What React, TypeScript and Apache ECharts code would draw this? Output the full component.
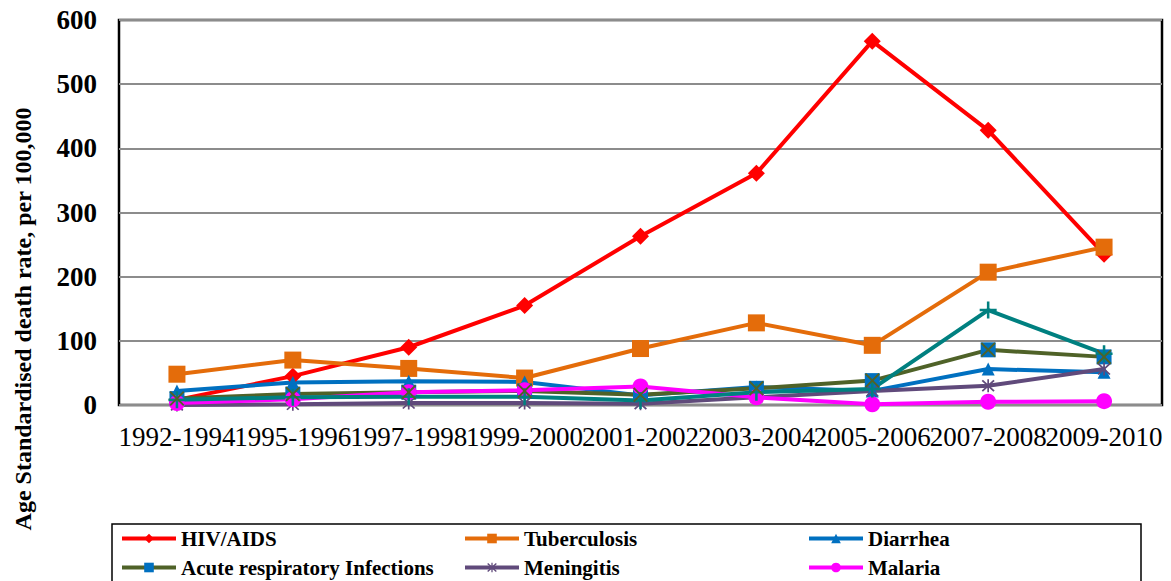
import React, { useEffect, useRef } from "react";
import * as echarts from "echarts";

const categories = ["1992-1994", "1995-1996", "1997-1998", "1999-2000", "2001-2002", "2003-2004", "2005-2006", "2007-2008", "2009-2010"];
const hivAids = [8, 45, 90, 155, 263, 361, 567, 428, 235];
const tuberculosis = [48, 70, 57, 42, 88, 128, 93, 207, 246];
const diarrhea = [22, 35, 37, 36, 15, 28, 22, 56, 51];
const acuteResp = [10, 17, 20, 22, 16, 26, 38, 86, 75];
const meningitis = [0, 1, 3, 3, 2, 12, 22, 30, 56];
const malaria = [3, 9, 20, 23, 29, 12, 1, 5, 6];
const otherTeal = [8, 12, 13, 13, 7, 20, 25, 148, 80];
const yTicks = { min: 0, max: 600, step: 100 };

const FONT = "Liberation Serif";
const PLUS = "path://M4.25,0H5.75V4.25H10V5.75H5.75V10H4.25V5.75H0V4.25H4.25Z";
const ASTER = "path://M4.4,0H5.6V10H4.4Z M0.4,1.3L1.3,0.4L9.6,8.7L8.7,9.6Z M8.7,0.4L9.6,1.3L1.3,9.6L0.4,8.7Z";
const XMARK = "path://M0,0.9L0.9,0L10,9.1L9.1,10Z M9.1,0L10,0.9L0.9,10L0,9.1Z";

export default function App() {
  const ref = useRef<HTMLDivElement>(null);
  useEffect(() => {
    if (!ref.current) return;
    const chart = echarts.init(ref.current, undefined, { renderer: "svg" });
    const line = (name: string, data: number[], lineColor: string, markColor: string, symbol: string, size: number, z = 2) => ({
      name,
      type: "line",
      data,
      z,
      symbol,
      symbolSize: size,
      lineStyle: { color: lineColor, width: 4 },
      itemStyle: { color: markColor, borderWidth: 0 },
      emphasis: { disabled: true },
    });
    const legendText = { fontFamily: FONT, fontWeight: "bold", fontSize: 21, color: "#000", lineHeight: 21 };
    const legendBase = {
      orient: "vertical",
      top: 528,
      padding: 0,
      itemWidth: 54,
      itemHeight: 12,
      itemGap: 8,
      textStyle: legendText,
      lineStyle: { width: 4 },
      selectedMode: false,
    };
    chart.setOption({
      animation: false,
      backgroundColor: "#fff",
      textStyle: { fontFamily: FONT },
      grid: { left: 119, right: 9, top: 20, bottom: 176, show: true, borderColor: "#000", borderWidth: 2.5, backgroundColor: "transparent" },
      xAxis: {
        type: "category",
        data: categories,
        boundaryGap: true,
        axisLine: { show: false },
        axisTick: { show: false },
        axisLabel: { interval: 0, hideOverlap: false, fontFamily: FONT, fontSize: 27, color: "#000", margin: 18 },
      },
      yAxis: {
        type: "value",
        min: yTicks.min,
        max: yTicks.max,
        interval: yTicks.step,
        axisLine: { show: false },
        axisTick: { show: false },
        axisLabel: { fontFamily: FONT, fontWeight: "bold", fontSize: 27, color: "#000", margin: 22 },
        splitLine: { lineStyle: { color: "#8c8c8c", width: 2 } },
      },
      legend: [
        { ...legendBase, left: 120, data: ["HIV/AIDS", "Acute respiratory Infections"] },
        { ...legendBase, left: 463, data: ["Tuberculosis", "Meningitis"] },
        { ...legendBase, left: 807, data: ["Diarrhea", "Malaria"] },
      ],
      graphic: [
        {
          type: "text",
          x: 23,
          y: 319,
          rotation: Math.PI / 2,
          style: {
            text: "Age Standardised death rate, per 100,000",
            fontFamily: FONT,
            fontWeight: "bold",
            fontSize: 24,
            fill: "#000",
            textAlign: "center",
            textVerticalAlign: "middle",
          },
        },
        {
          type: "rect",
          shape: { x: 112, y: 524, width: 1029, height: 100 },
          style: { fill: "none", stroke: "#000", lineWidth: 1.5 },
        },
      ],
      series: [
        line("HIV/AIDS", hivAids, "#FF0000", "#FF0000", "diamond", 17),
        line("Tuberculosis", tuberculosis, "#E46C0A", "#E46C0A", "rect", 17),
        line("Diarrhea", diarrhea, "#0070C0", "#0070C0", "triangle", 13),
        line("Acute respiratory Infections", acuteResp, "#4F6228", "#0070C0", "rect", 15),
        {
          name: "acute-mark",
          type: "line",
          data: acuteResp,
          z: 3,
          symbol: XMARK,
          symbolSize: 15,
          lineStyle: { width: 0, opacity: 0 },
          itemStyle: { color: "#4F6228" },
          silent: true,
        },
        line("Meningitis", meningitis, "#604A7B", "#604A7B", ASTER, 13),
        line("Malaria", malaria, "#FF00FF", "#FF00FF", "circle", 16),
        line("teal-series", otherTeal, "#008080", "#008080", PLUS, 17),
      ],
    });
    return () => chart.dispose();
  }, []);
  return <div ref={ref} style={{ position: "absolute", left: 0, top: 0, width: 1171, height: 581 }} />;
}
